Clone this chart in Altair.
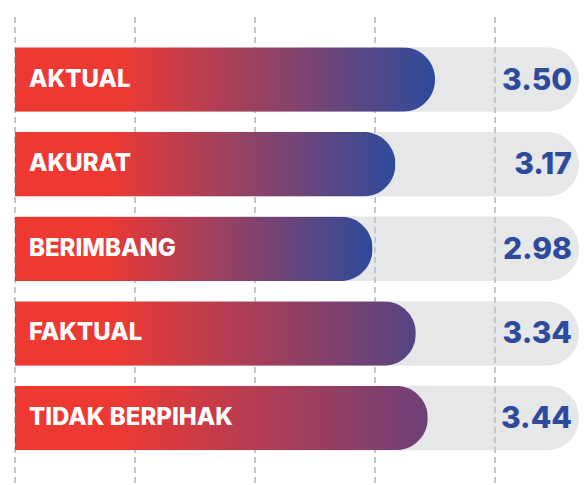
import altair as alt
import pandas as pd

# ---- data ----
categories = ["AKTUAL", "AKURAT", "BERIMBANG", "FAKTUAL", "TIDAK BERPIHAK"]
values = [3.50, 3.17, 2.98, 3.34, 3.44]
value_labels = ["3.50", "3.17", "2.98", "3.34", "3.44"]
grid_values = [0, 1, 2, 3, 4]

# ---- styles ----
end_colors = ["#2D4B9D", "#2E4B9C", "#2E4A9B", "#554483", "#6E4079"]
RED = "#EE3933"
BLUE = "#2E4B9B"
GREY = "#E6E7E9"
FONT = "Inter"

df = pd.DataFrame({"cat": categories, "value": values, "label": value_labels})
grid_df = pd.DataFrame({"g": grid_values})

W, H = 564, 477
x_scale = alt.Scale(domain=[0, W / 120], nice=False)
y_scale = alt.Scale(domain=categories, range=[39.3, 442.3], paddingInner=0.238, paddingOuter=0)
Y = alt.Y("cat:N", scale=y_scale, axis=None)

base = alt.Chart(df)

background = base.mark_bar(
    color=GREY, cornerRadiusTopRight=32, cornerRadiusBottomRight=32
).encode(y=Y, x=alt.value(0), x2=alt.value("width"))

grid = alt.Chart(grid_df).mark_rule(
    color="#C6C6C6", strokeWidth=2, strokeDash=[6, 4]
).encode(
    x=alt.X("g:Q", scale=x_scale, axis=None),
    y=alt.value(9),
    y2=alt.value("height"),
)

bar_layers = []
for cat, endc in zip(categories, end_colors):
    grad = alt.Gradient(
        gradient="linear",
        stops=[
            alt.GradientStop(color=RED, offset=0),
            alt.GradientStop(color=RED, offset=0.25),
            alt.GradientStop(color=endc, offset=1),
        ],
        x1=0, x2=1, y1=0, y2=0,
    )
    bar_layers.append(
        base.transform_filter(alt.datum.cat == cat)
        .mark_bar(color=grad, cornerRadiusTopRight=32, cornerRadiusBottomRight=32)
        .encode(y=Y, x=alt.X("value:Q", scale=x_scale, axis=None))
    )

cat_text = base.mark_text(
    align="left", baseline="middle", color="white", font=FONT,
    fontWeight=800, fontSize=24, dx=14,
).encode(y=Y, x=alt.value(0), text="cat:N")

val_text = base.mark_text(
    align="right", baseline="middle", color=BLUE, font=FONT,
    fontWeight=800, fontSize=30, dx=-7, dy=1,
).encode(y=Y, x=alt.value("width"), text="label:N")

chart = alt.layer(background, grid, *bar_layers, cat_text, val_text).properties(
    width=W,
    height=H,
    padding={"left": 7, "top": 0, "right": 0, "bottom": 0},
    autosize=alt.AutoSizeParams(type="none"),
    background="white",
).configure_view(stroke=None)

chart.save("out.html", embed_options={"renderer": "svg", "actions": False})
